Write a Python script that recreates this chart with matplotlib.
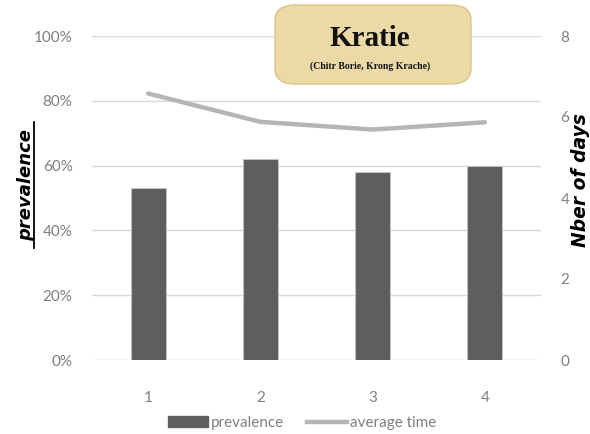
import matplotlib
matplotlib.use("Agg")
import matplotlib.pyplot as plt
from matplotlib.patches import FancyBboxPatch, Patch
from matplotlib.lines import Line2D

categories = ["1", "2", "3", "4"]
prevalence = [0.53, 0.62, 0.58, 0.60]
average_time = [6.58, 5.88, 5.69, 5.87]
left_ticks = [0, 0.2, 0.4, 0.6, 0.8, 1.0]
left_labels = ["0%", "20%", "40%", "60%", "80%", "100%"]
right_ticks = [0, 2, 4, 6, 8]

fig = plt.figure(figsize=(5.9, 4.34), dpi=100)
ax = fig.add_axes([92/590, 1-360/434, (541-92)/590, (360-36)/434])
x = list(range(len(categories)))
ax.bar(x, prevalence, width=0.31, color="#5e5e5e", edgecolor="#c8c8c8", linewidth=0.6, zorder=3)
ax.set_xlim(-0.5, 3.5)
ax.set_ylim(0, 1.0)
ax.set_yticks(left_ticks)
ax.set_yticklabels(left_labels)
ax.set_xticks(x)
ax.set_xticklabels(categories)
ax.grid(axis="y", color="#d9d9d9", linewidth=1, zorder=0)
for s in ax.spines.values():
    s.set_visible(False)
ax.tick_params(axis="both", length=0, colors="#7f7f7f", labelsize=11)
ax.tick_params(axis="y", pad=14)
ax.tick_params(axis="x", pad=22)
for lab in ax.get_xticklabels() + ax.get_yticklabels():
    lab.set_fontfamily("Lato")

ax2 = ax.twinx()
ax2.plot(x, average_time, color="#b5b5b5", linewidth=3.2, solid_capstyle="round", zorder=4)
ax2.set_ylim(0, 8)
ax2.set_yticks(right_ticks)
for s in ax2.spines.values():
    s.set_visible(False)
ax2.tick_params(axis="y", length=0, colors="#7f7f7f", labelsize=11, pad=14)
for lab in ax2.get_yticklabels():
    lab.set_fontfamily("Lato")

# axis titles
fig.text(26/590, 1-185/434, "prevalence", rotation=90, ha="center", va="center",
         fontsize=13, fontweight="bold", fontstyle="italic", color="black", family="DejaVu Sans")
fig.add_artist(Line2D([34/590, 34/590], [1-248/434, 1-122/434], color="black", linewidth=1.3))
fig.text(580/590, 1-180/434, "Nber of days", rotation=90, ha="center", va="center",
         fontsize=13.5, fontweight="bold", fontstyle="italic", color="black", family="DejaVu Sans")

# title box
box = FancyBboxPatch((275/590, 1-84/434), (471-275)/590, (84-5)/434,
                     boxstyle="round,pad=0,rounding_size=0.035", transform=fig.transFigure,
                     facecolor="#ebd9a6", edgecolor="#dcc48a", linewidth=1, zorder=5)
fig.add_artist(box)
fig.text(370/590, 1-38/434, "Kratie", ha="center", va="center", fontsize=21,
         fontweight="bold", family="Liberation Serif", color="#111111", zorder=6)
fig.text(370/590, 1-66/434, "(Chitr Borie, Krong Krache)", ha="center", va="center", fontsize=7,
         fontweight="bold", family="Liberation Serif", color="#111111", zorder=6)

handles = [Patch(facecolor="#5e5e5e", edgecolor="#5e5e5e"),
           Line2D([0], [0], color="#b5b5b5", linewidth=3.2)]
leg = fig.legend(handles, ["prevalence", "average time"], loc="center", bbox_to_anchor=(302/590, 1-423/434),
                 ncol=2, frameon=False, handlelength=2.6, handletextpad=0.2, columnspacing=1.5,
                 prop={"family": "Lato", "size": 11})
for t in leg.get_texts():
    t.set_color("#7f7f7f")

fig.savefig("out.png", dpi=100)
